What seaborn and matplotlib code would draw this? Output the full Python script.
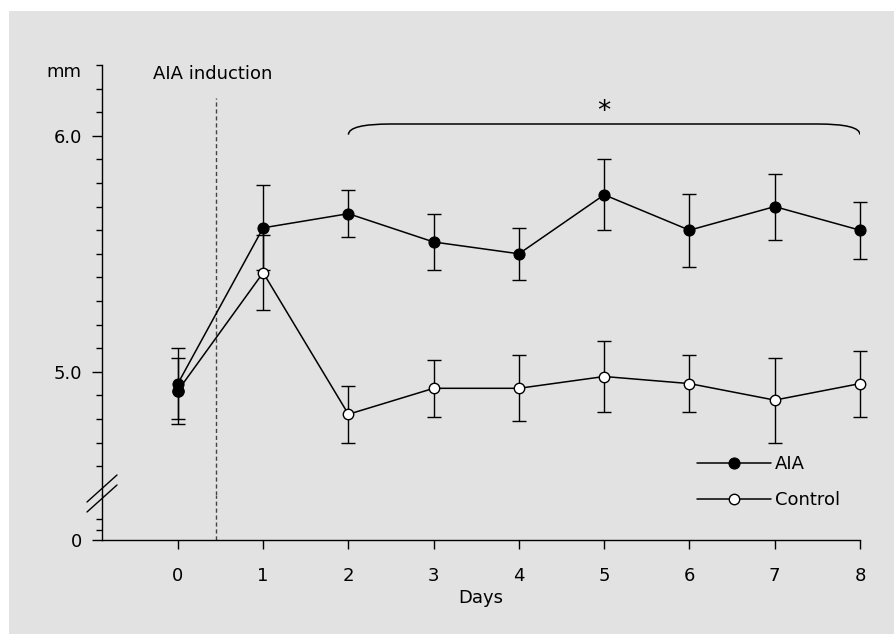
import numpy as np
import pandas as pd
import seaborn as sns
import matplotlib.pyplot as plt
from matplotlib.lines import Line2D
from matplotlib.patches import Rectangle, PathPatch
from matplotlib.path import Path

# values (mm, mean +/- sem)
days = [0, 1, 2, 3, 4, 5, 6, 7, 8]
aia_mean = [4.95, 5.61, 5.67, 5.55, 5.50, 5.75, 5.60, 5.70, 5.60]
aia_sem = [0.15, 0.18, 0.10, 0.12, 0.11, 0.15, 0.155, 0.14, 0.12]
ctrl_mean = [4.92, 5.42, 4.82, 4.93, 4.93, 4.98, 4.95, 4.88, 4.95]
ctrl_sem = [0.14, 0.16, 0.12, 0.12, 0.14, 0.15, 0.12, 0.18, 0.14]
induction_day = 0.45
sig_days = [2, 8]

df = pd.DataFrame({'Days': days * 2,
                   'mm': aia_mean + ctrl_mean,
                   'sem': aia_sem + ctrl_sem,
                   'group': ['AIA'] * len(days) + ['Control'] * len(days)})

sns.set_style("ticks")
plt.rcParams['font.family'] = ['DejaVu Sans']
plt.rcParams['font.size'] = 13
for k in ['text.color', 'axes.labelcolor', 'xtick.color', 'ytick.color', 'axes.edgecolor']:
    plt.rcParams[k] = 'black'

W, H = 895, 634
fig = plt.figure(figsize=(W / 100, H / 100), dpi=100)
fig.patch.set_facecolor('white')
# grey panel behind the figure
fig.patches.append(Rectangle((9 / W, 0), 1, 1 - 11 / H, transform=fig.transFigure,
                             facecolor='#e2e2e2', edgecolor='none', zorder=-5))

left, right = 102 / W, 860 / W
top_px, brk_px, bot_px = 65, 494.5, 540
ax = fig.add_axes([left, 1 - brk_px / H, right - left, (brk_px - top_px) / H])
ax0 = fig.add_axes([left, 1 - bot_px / H, right - left, (bot_px - brk_px) / H], sharex=ax)
for a in (ax, ax0):
    a.set_facecolor('none')
    for s in ['top', 'right']:
        a.spines[s].set_visible(False)
    a.spines['left'].set_linewidth(1.0)
    a.spines['bottom'].set_linewidth(1.0)
ax.spines['bottom'].set_visible(False)

ax.set_xlim(-0.89, 8.0)
ax.set_ylim(4.48, 6.3)
ax0.set_ylim(0, 0.44)

# error bars first, then the lines and markers
for g, m, e in [('Control', ctrl_mean, ctrl_sem), ('AIA', aia_mean, aia_sem)]:
    eb = ax.errorbar(days, m, yerr=e, fmt='none', ecolor='black', elinewidth=1.0,
                     capsize=5, capthick=1.0, zorder=2)
    for ch in eb.get_children():
        ch.set_clip_on(False)

sns.lineplot(data=df[df.group == 'Control'], x='Days', y='mm', ax=ax, color='black',
             lw=1.1, marker='o', markersize=7.5, markerfacecolor='white',
             markeredgecolor='black', markeredgewidth=1.0, label='Control', zorder=3)
sns.lineplot(data=df[df.group == 'AIA'], x='Days', y='mm', ax=ax, color='black',
             lw=1.1, marker='o', markersize=8, markerfacecolor='black',
             markeredgecolor='black', label='AIA', zorder=4)
# day 0 control point is printed solid in the original
ax.plot(days[0], ctrl_mean[0], 'o', color='black', markersize=8, zorder=4)
for ln in ax.get_lines():
    ln.set_clip_on(False)

# induction line
ax.vlines(induction_day, 4.48, 6.16, colors='#444444', linestyles=(0, (3, 2)), lw=1.0)
ax0.axvline(induction_day, color='#444444', ls=(0, (3, 2)), lw=1.0)
ax.text(-0.29, 6.263, 'AIA induction', ha='left', va='center')

# brace for significance
x0, x1 = sig_days
yb, yt = 6.005, 6.05
verts = [(x0, yb), (x0, yt), (x0 + 0.5, yt), (x1 - 0.5, yt), (x1, yt), (x1, yb)]
codes = [Path.MOVETO, Path.CURVE3, Path.CURVE3, Path.LINETO, Path.CURVE3, Path.CURVE3]
ax.add_patch(PathPatch(Path(verts, codes), facecolor='none', edgecolor='black', lw=1.1))
ax.text((x0 + x1) / 2, 6.1, '*', ha='center', va='center', fontsize=19)

# y ticks: main part
ax.set_yticks([5.0, 6.0])
ax.set_yticklabels(['5.0', '6.0'])
ax.set_yticks(np.round(np.arange(4.6, 6.31, 0.1), 2), minor=True)
ax.tick_params(axis='y', which='major', length=7, width=1.0, pad=7)
ax.tick_params(axis='y', which='minor', length=4.5, width=1.0)
ax.tick_params(axis='x', which='both', bottom=False, labelbottom=False)
ax.annotate('mm', xy=(0, 6.3), xycoords=('axes fraction', 'data'),
            xytext=(-15, -5), textcoords='offset points', ha='right', va='center')

# below the break
ax0.set_yticks([0])
ax0.set_yticklabels(['0'])
ax0.set_yticks([0.1, 0.2], minor=True)
ax0.tick_params(axis='y', which='major', length=7, width=1.0, pad=7)
ax0.tick_params(axis='y', which='minor', length=4.5, width=1.0)
ax0.set_xticks(days)
ax0.tick_params(axis='x', length=6.5, width=1.0, pad=13)
ax0.set_xlabel('Days', labelpad=3)
ax0.set_ylabel('')
ax.set_xlabel('')
ax.set_ylabel('')

# axis break marks
for dy in (0, 10):
    fig.add_artist(Line2D([87 / W, 117 / W], [1 - (502 + dy) / H, 1 - (475 + dy) / H],
                          transform=fig.transFigure, color='black', lw=1.0))

# legend
handles, labels = ax.get_legend_handles_labels()
order = [labels.index('AIA'), labels.index('Control')]
leg = ax.legend([handles[i] for i in order], [labels[i] for i in order],
                loc='upper left', bbox_to_anchor=(697 / W, 1 - 455 / H),
                bbox_transform=fig.transFigure, frameon=False, handlelength=4.1,
                handletextpad=0.2, labelspacing=1.0, borderpad=0, borderaxespad=0)

fig.savefig('out.png', dpi=100)
